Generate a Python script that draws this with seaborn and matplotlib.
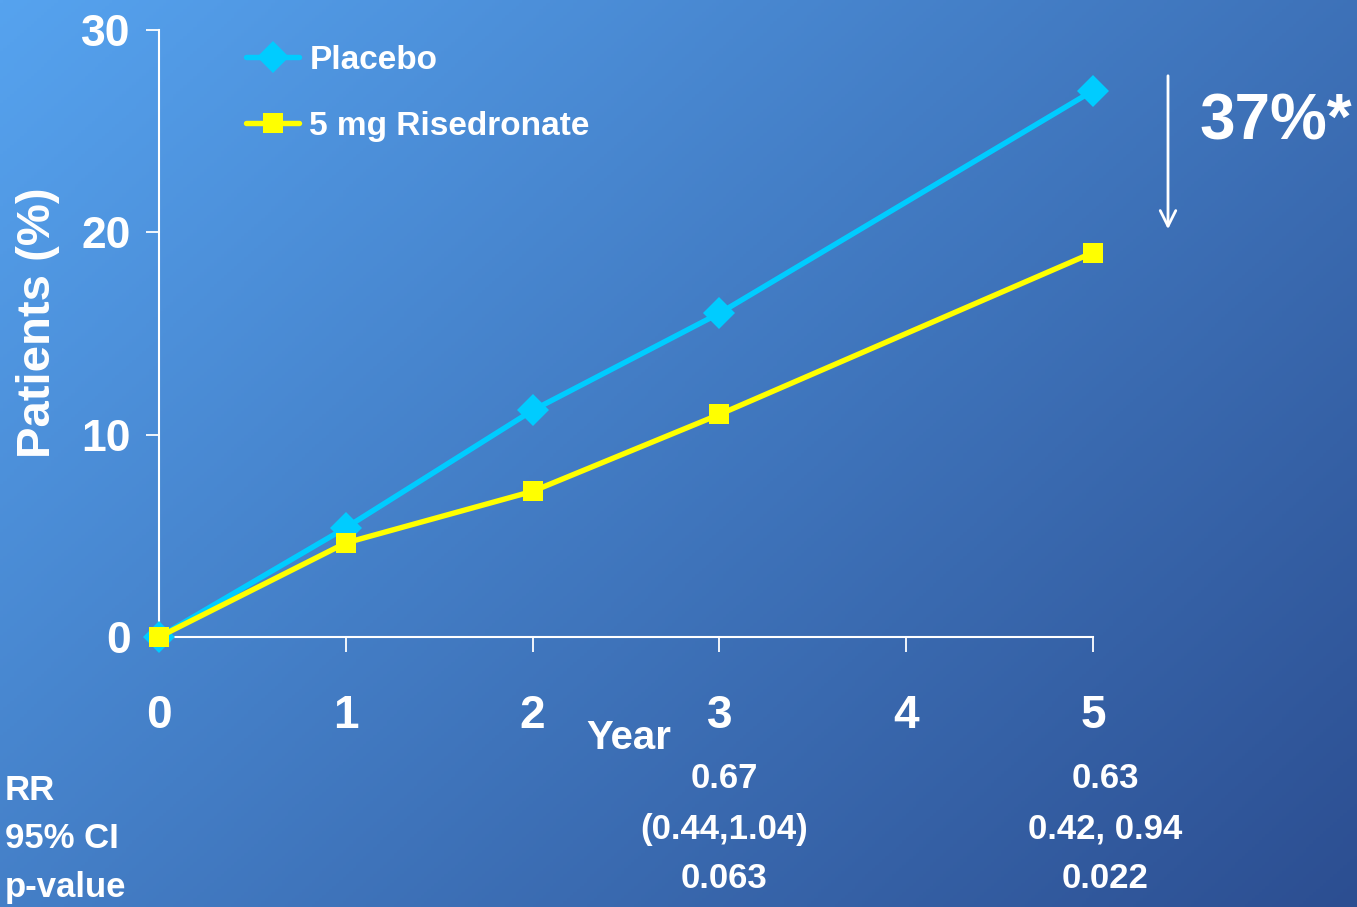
import numpy as np
import pandas as pd
import matplotlib
matplotlib.use("Agg")
import matplotlib.pyplot as plt
from matplotlib import font_manager
import seaborn as sns

# ---- data ----
years = [0, 1, 2, 3, 5]
placebo = [0.0, 5.4, 11.2, 16.0, 27.0]
risedronate = [0.0, 4.65, 7.2, 11.0, 19.0]
series_names = ["Placebo", "5 mg Risedronate"]
x_ticks = [0, 1, 2, 3, 4, 5]
y_ticks = [0, 10, 20, 30]
stat_row_labels = ["RR", "95% CI", "p-value"]
stats_year3 = ["0.67", "(0.44,1.04)", "0.063"]
stats_year5 = ["0.63", "0.42, 0.94", "0.022"]
reduction_label = "37%*"

sns.set_theme(style="white")

available = {f.name for f in font_manager.fontManager.ttflist}
narrow = "Liberation Sans Narrow" if "Liberation Sans Narrow" in available else "Liberation Sans"
wide = "Liberation Sans"
plt.rcParams["font.family"] = [wide, "DejaVu Sans"]

W, H = 1357, 907
fig = plt.figure(figsize=(W / 100, H / 100), dpi=100)

# diagonal blue gradient backdrop
bg = fig.add_axes([0, 0, 1, 1], zorder=0)
gx, gy = np.meshgrid(np.linspace(0, 1, 400), np.linspace(0, 1, 300))
t = 0.58 * gx + 0.42 * gy
c0 = np.array([0x56, 0xA3, 0xEF]) / 255
c1 = np.array([0x2C, 0x4E, 0x91]) / 255
img = c0[None, None, :] + (c1 - c0)[None, None, :] * t[:, :, None]
bg.imshow(img, aspect="auto", extent=[0, 1, 0, 1], origin="upper")
bg.axis("off")

def px(x, y):
    return x / W, 1 - y / H

left, top = px(159, 30)
right, bottom = px(1093, 637)
ax = fig.add_axes([left, bottom, right - left, top - bottom], zorder=1)
ax.patch.set_alpha(0)

df = pd.DataFrame({
    "Year": years * 2,
    "Patients": placebo + risedronate,
    "Group": [series_names[0]] * len(years) + [series_names[1]] * len(years),
})

sns.lineplot(data=df[df.Group == series_names[0]], x="Year", y="Patients",
             color="#00CCFF", marker="D", markersize=16, markeredgewidth=0,
             linewidth=3.9, ax=ax, label=series_names[0], clip_on=False, zorder=3)
sns.lineplot(data=df[df.Group == series_names[1]], x="Year", y="Patients",
             color="#FFFF00", marker="s", markersize=14, markeredgewidth=0,
             linewidth=3.9, ax=ax, label=series_names[1], clip_on=False, zorder=4)

ax.set_xlim(0, 5)
ax.set_ylim(0, 30)
ax.set_xticks(x_ticks)
ax.set_yticks(y_ticks)
ax.set_xticklabels([str(v) for v in x_ticks], fontfamily=narrow, fontweight="bold",
                   fontsize=33, color="white")
ax.set_yticklabels([str(v) for v in y_ticks], fontfamily=narrow, fontweight="bold",
                   fontsize=32, color="white")
ax.tick_params(axis="x", direction="out", length=11, width=1.3, color="white", pad=30)
ax.tick_params(axis="y", direction="out", length=9.5, width=1.3, color="white", pad=11)
ax.tick_params(left=True, bottom=True)
for side in ["top", "right"]:
    ax.spines[side].set_visible(False)
for side in ["left", "bottom"]:
    ax.spines[side].set_color("white")
    ax.spines[side].set_linewidth(1.5)

ax.set_xlabel("")
ax.set_ylabel("Patients (%)", fontsize=34, fontweight="bold", color="white",
              fontfamily=wide, va="center")
ax.yaxis.set_label_coords(-0.130, 0.518)

leg = ax.legend(loc="upper left", bbox_to_anchor=px(246, 45),
                bbox_transform=fig.transFigure, frameon=False,
                prop={"family": narrow, "weight": "bold", "size": 24},
                handlelength=1.6, handletextpad=0.3, labelspacing=1.05,
                borderpad=0, borderaxespad=0)
for txt in leg.get_texts():
    txt.set_color("white")

# "Year" axis title
fx, fy = px(629, 738)
fig.text(fx, fy, "Year", ha="center", va="center", fontfamily=narrow,
         fontweight="bold", fontsize=29, color="white")

# arrow and reduction label
ax.annotate("", xy=px(1168, 232), xytext=px(1168, 73),
            xycoords="figure fraction", textcoords="figure fraction",
            arrowprops=dict(arrowstyle="->", color="white", lw=2.0,
                            mutation_scale=28))
fx, fy = px(1276, 122)
fig.text(fx, fy, reduction_label, ha="center", va="center", fontfamily=wide,
         fontweight="bold", fontsize=46, color="white")

# statistics rows
for i, lab in enumerate(stat_row_labels):
    fx, fy = px(5, 790 + 49 * i)
    fig.text(fx, fy, lab, ha="left", va="center", fontfamily=narrow,
             fontweight="bold", fontsize=25, color="white")
for col_x, vals in [(724, stats_year3), (1105, stats_year5)]:
    for i, v in enumerate(vals):
        fx, fy = px(col_x, 779 + 50 * i)
        fig.text(fx, fy, v, ha="center", va="center", fontfamily=narrow,
                 fontweight="bold", fontsize=25, color="white")

fig.savefig("out.png", dpi=100)
